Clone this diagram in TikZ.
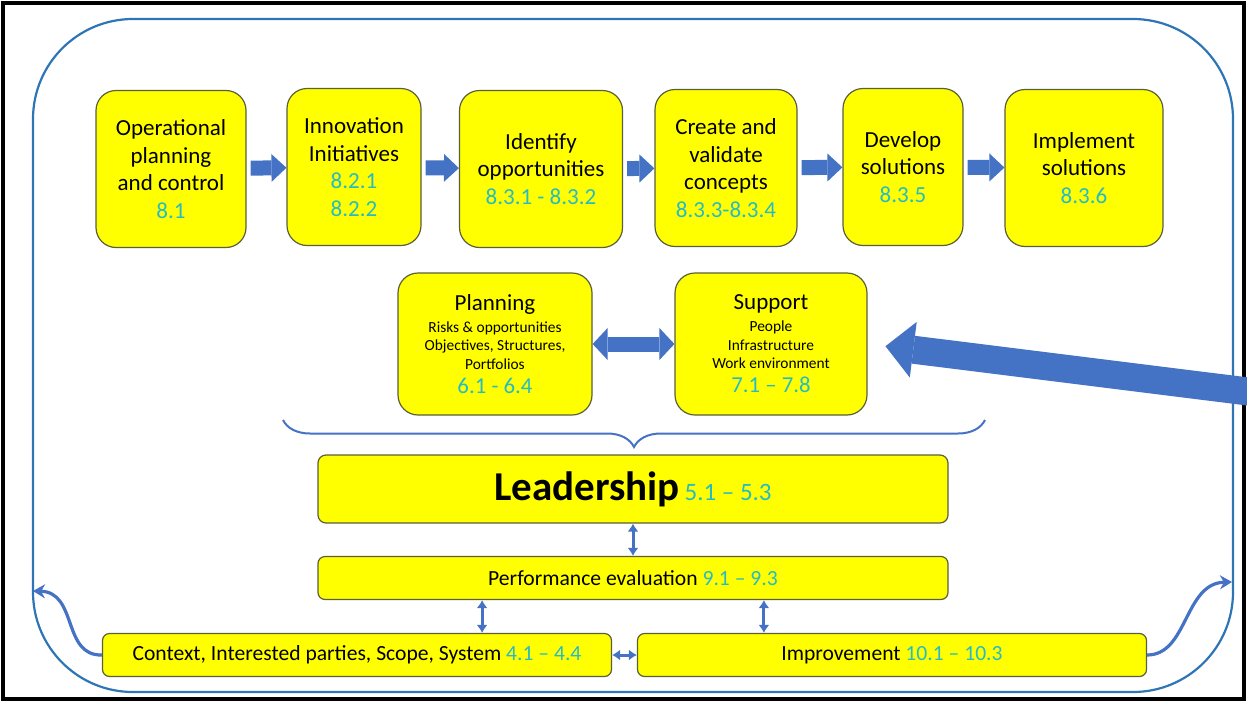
\documentclass[tikz,border=0pt]{standalone}
\usepackage{fontspec}
\setmainfont{Carlito}
\usetikzlibrary{arrows.meta,decorations.pathreplacing}

\definecolor{boxyellow}{RGB}{255,255,0}
\definecolor{boxedge}{RGB}{90,95,60}
\definecolor{numcyan}{RGB}{38,188,196}
\definecolor{arrowblue}{RGB}{68,114,196}
\definecolor{loopblue}{RGB}{46,117,182}

\newcommand{\secnum}[1]{\textcolor{numcyan}{#1}}
\newcommand{\smalltxt}{\fontsize{7.7}{9.25}\selectfont}

\begin{document}
\begin{tikzpicture}[x=0.5pt, y=-0.5pt,
    stepbox/.style={rectangle, rounded corners=10pt, draw=boxedge, line width=0.6pt, fill=boxyellow,
        align=center, inner sep=2pt, minimum height=78.5pt, font=\fontsize{11.5}{13.75}\selectfont},
    areabox/.style={stepbox, minimum height=71pt},
    barbox/.style={rectangle, rounded corners=3.5pt, draw=boxedge, line width=0.6pt, fill=boxyellow,
        inner sep=2pt, minimum height=21.5pt, font=\fontsize{10.8}{13}\selectfont},
    fatarrow/.style={draw=arrowblue, line width=7.5pt, shorten <=2pt,
        -{Triangle[width=14pt, length=7.5pt, line width=0pt]}},
    fatboth/.style={draw=arrowblue, line width=7.5pt,
        {Triangle[width=16pt, length=7.5pt, line width=0pt]}-{Triangle[width=16pt, length=7.5pt, line width=0pt]}},
    bigarrow/.style={draw=arrowblue, line width=14pt, shorten >=9pt,
        -{Triangle[width=28pt, length=14pt, line width=0pt]}},
    thinboth/.style={draw=arrowblue, line width=1.5pt,
        {Latex[width=5.5pt, length=4pt]}-{Latex[width=5.5pt, length=4pt]}},
    looparrow/.style={draw=arrowblue, line width=1.6pt, -{Stealth[width=7pt, length=6pt]}}]

    \clip (0,0) rectangle (1247,702);

    % frame and the outer loop
    \draw[line width=1.6pt] (3,3) rectangle (1244,699);
    \draw[loopblue, line width=1.1pt, rounded corners=50pt] (33,19) rectangle (1233,692);

    % innovation process
    \node[stepbox, minimum width=75pt] (op) at (171,169) {Operational\\planning\\and control\\\secnum{8.1}};
    \node[stepbox, minimum width=67pt] (inno) at (354,167) {Innovation\\Initiatives\\\secnum{8.2.1}\\\secnum{8.2.2}};
    \node[stepbox, minimum width=81.5pt] (ident) at (541,169) {Identify\\opportunities\\\secnum{8.3.1 - 8.3.2}};
    \node[stepbox, minimum width=71pt] (create) at (726,168) {Create and\\validate\\concepts\\\secnum{8.3.3-8.3.4}};
    \node[stepbox, minimum width=60pt] (dev) at (903,167) {Develop\\solutions\\\secnum{8.3.5}};
    \node[stepbox, minimum width=79pt] (impl) at (1084,168) {Implement\\solutions\\\secnum{8.3.6}};

    % planning and support (line spacing follows the node font, hence the negative skips)
    \node[areabox, minimum width=97pt] (plan) at (495,344) {Planning\\[-2.75pt]
        \smalltxt Risks \& opportunities\\[-4.5pt] \smalltxt Objectives, Structures,\\[-4.5pt] \smalltxt Portfolios\\[-1.75pt]
        \fontsize{11.4}{13.75}\selectfont\secnum{6.1 - 6.4}};
    \node[areabox, minimum width=96pt] (sup) at (771,344) {Support\\[-2.75pt]
        \smalltxt People\\[-4.5pt] \smalltxt Infrastructure\\[-4.5pt] \smalltxt Work environment\\[-1.75pt]
        \fontsize{11.4}{13.75}\selectfont\secnum{7.1 -- 7.8}};

    \node[barbox, minimum width=315pt, minimum height=34pt, rounded corners=4pt] (lead) at (633,489)
        {{\fontsize{20.5}{24}\selectfont\bfseries Leadership} {\fontsize{12.5}{15}\selectfont\secnum{5.1 -- 5.3}}};
    \node[barbox, minimum width=315pt] (perf) at (633,578) {Performance evaluation \secnum{9.1 -- 9.3}};
    \node[barbox, minimum width=254.5pt] (ctx) at (357,655) {Context, Interested parties, Scope, System \secnum{4.1 -- 4.4}};
    \node[barbox, minimum width=254.5pt] (impr) at (892,655) {Improvement \secnum{10.1 -- 10.3}};

    \coordinate (src) at (1300,398);
    \coordinate (bl) at (283,420);
    \coordinate (br) at (985,420);
    \coordinate (lftend) at (33,591);
    \coordinate (rgtend) at (1232,582);

    \draw[fatarrow] (op) -- (inno);
    \draw[fatarrow] (inno) -- (ident);
    \draw[fatarrow] (ident) -- (create);
    \draw[fatarrow] (create) -- (dev);
    \draw[fatarrow] (dev) -- (impl);

    \draw[fatboth] (plan) -- (sup);
    \draw[bigarrow] (src) -- (sup.east);

    \draw[arrowblue, line width=1pt, decorate, decoration={brace, amplitude=13.5pt, mirror}] (bl) -- (br);

    \draw[thinboth] (lead) -- (perf);
    \draw[thinboth] ([xshift=-65pt]ctx.north east) -- ([xshift=-65pt]ctx.north east |- perf.south);
    \draw[thinboth] ([xshift=63.5pt]impr.north west) -- ([xshift=63.5pt]impr.north west |- perf.south);
    \draw[thinboth] (ctx) -- (impr);

    \draw[looparrow] (ctx.west) .. controls (62,656) and (78,592) .. (lftend);
    \draw[looparrow] (impr.east) .. controls (1188,655) and (1184,583) .. (rgtend);

\end{tikzpicture}
\end{document}
